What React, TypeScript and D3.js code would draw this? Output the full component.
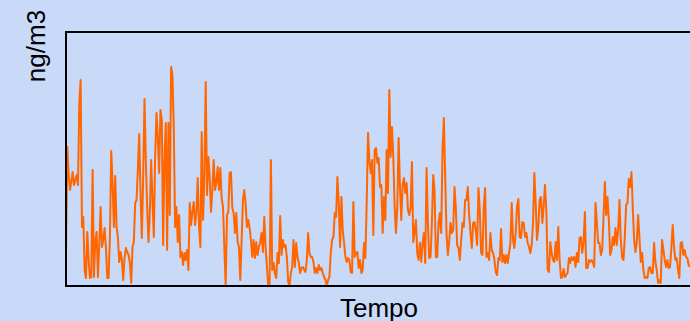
import React from "react";
import * as d3 from "d3";

// concentration series, one value per time step
const values: number[] = [
  34, 139, 111, 96, 105, 114, 101, 106, 111, 101, 183, 206,
  59, 69, 16, 8, 54, 26, 8, 9, 116, 9,
  44, 54, 9, 41, 79, 39, 46, 58, 39, 8,
  8, 49, 135, 103, 59, 110, 59, 49, 24, 34,
  26, 6, 28, 38, 34, 31, 23, 3, 39, 44,
  83, 86, 116, 152, 93, 48, 109, 187, 126, 79,
  44, 73, 126, 86, 49, 129, 173, 149, 113, 176,
  166, 41, 126,
  163, 36, 163, 71, 219, 211, 159, 59, 79, 44,
  71, 29, 34, 21, 33, 26, 36, 16, 83, 61,
  74, 84, 61, 73, 108, 59, 39, 154, 66, 109,
  204, 91, 129, 109, 74, 96, 126, 96, 104, 119,
  96, 118, 88, 79, 39, 0, 71, 74, 113, 114,
  78, 73, 53, 73, 44, 39, 6, 46, 86, 96,
  83, 59, 66, 58, 46, 29, 46, 28, 44, 31,
  39, 44, 53, 34, 69, 39, 19, 0, 0, 126,
  16, 23, 13, 8, 33, 23, 70, 31, 46, 39,
  41, 29, 4, 0, 13, 19, 46, 19, 43, 29,
  23, 13, 18, 19, 16, 14, 26, 53, 33, 29,
  29, 24, 13, 18, 13, 21, 16, 18, 13, 9,
  6, 0, 6, 9, 33, 46, 49, 73, 69, 109,
  83, 39, 89, 56, 43, 29, 24, 28, 26, 14,
  13, 84, 29, 33, 34, 18, 26, 13, 16, 43,
  28, 83, 153, 126, 113, 126, 51,
  136, 138, 123, 128, 99, 101, 53, 89, 66, 136,
  93, 196, 129, 159, 129, 79, 53, 79, 148, 99,
  66, 101, 108, 93, 103, 76, 71, 78, 124, 44,
  54, 66, 33, 26, 43, 24, 43, 53, 23, 118,
  63, 28, 29, 63, 111, 96, 29, 29, 63, 73,
  53, 136, 168, 109, 53, 31, 44, 63, 53, 56,
  99, 78, 41, 38, 26, 46, 63, 59, 86, 86,
  99, 71, 53, 38, 63, 64, 56, 41,
  98, 76, 33, 31, 79, 98, 29, 33, 26, 53,
  36, 33, 26, 14, 11, 28, 26, 57, 24, 31,
  23, 31, 23, 33, 43, 83, 46, 38, 53, 79,
  87, 49, 48, 64, 63, 49, 53, 43, 39, 33,
  41, 63, 113, 83, 46, 59, 86, 89, 63, 79,
  101, 76, 16, 14, 44, 33, 26, 24, 44, 26,
  59, 26, 8, 9, 17, 9, 11, 13, 28, 23,
  29, 26, 29, 19, 33, 24, 48, 49,
  33, 44, 74, 18, 18, 26, 24, 26, 24, 19,
  83, 63, 43, 43, 31, 36, 69, 104, 71, 89,
  66, 31, 36, 49, 41, 58, 41, 56, 86, 46,
  28, 26, 49, 81, 83, 107, 99, 114, 78, 46,
  34, 44, 71, 49, 24, 33, 16, 8, 9, 8,
  18, 19, 13, 13, 43, 24, 16, 3, 6, 3,
  46, 36, 26, 19, 26, 18, 19, 38, 61, 39,
  26, 28, 16, 8, 43, 44, 31, 36, 29, 28,
  21, 19,
];

const yMax = 254;
const xLabel = "Tempo";
const yLabel = "ng/m3";

const width = 690;
const height = 321;
const left = 66;
const top = 32;
const bottom = 286;

export default function App() {
  const x = d3.scaleLinear().domain([0, values.length - 1]).range([left, width]);
  const y = d3.scaleLinear().domain([0, yMax]).range([bottom, top]);

  const line = d3
    .line<number>()
    .x((_, i) => x(i))
    .y((d) => y(d));

  const font = "'Liberation Sans', Arial, sans-serif";

  return (
    <div style={{ position: "absolute", left: 0, top: 0 }}>
      <svg width={width} height={height} style={{ display: "block" }}>
        <rect width={width} height={height} fill="#c9d9f8" />
        <path
          d={line(values) ?? ""}
          fill="none"
          stroke="#ff6600"
          strokeWidth={2}
          strokeLinejoin="round"
        />
        <rect
          x={left}
          y={top}
          width={width - left + 20}
          height={bottom - top}
          fill="none"
          stroke="#000"
          strokeWidth={2}
        />
        <text
          x={379}
          y={316.5}
          textAnchor="middle"
          fontFamily={font}
          fontSize={26}
          fill="#000"
        >
          {xLabel}
        </text>
        <text
          transform="translate(45,46) rotate(-90)"
          textAnchor="middle"
          fontFamily={font}
          fontSize={26}
          fill="#000"
        >
          {yLabel}
        </text>
      </svg>
    </div>
  );
}
